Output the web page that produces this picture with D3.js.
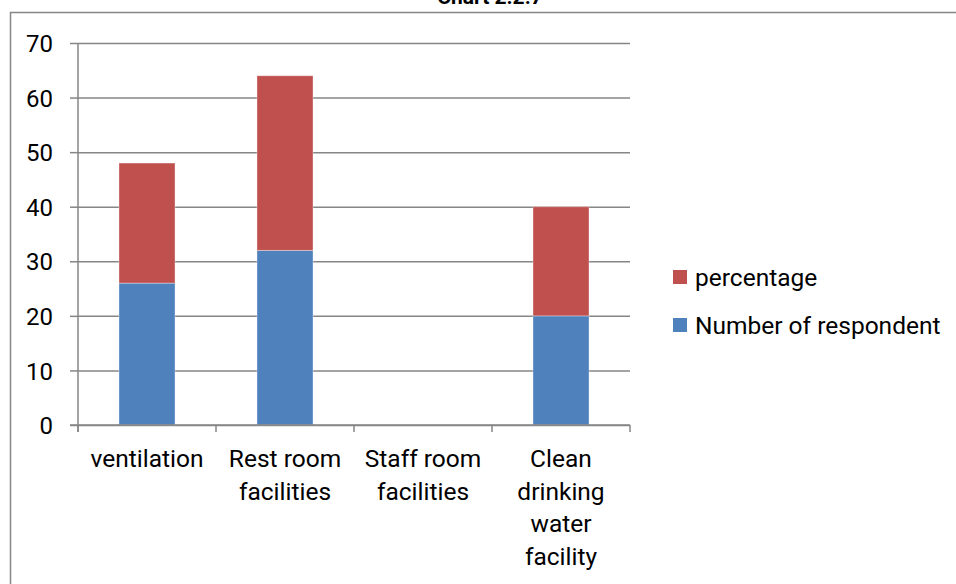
<!DOCTYPE html>
<html>
<head>
<meta charset="utf-8">
<title>Chart 2.2.7</title>
<script src="https://d3js.org/d3.v7.min.js"></script>
<style>
    body { margin: 0; background: #fff; }
    text { font-family: Roboto, "Liberation Sans", Arial, sans-serif; fill: #000; }
    .grid line, .tick-x { stroke: #868686; stroke-width: 1.5px; }
</style>
</head>
<body>
<div id="chart"></div>
<script>
    // data
    const categories = ["ventilation", "Rest room facilities", "Staff room facilities", "Clean drinking water facility"];
    const categoryLines = [["ventilation"], ["Rest room", "facilities"], ["Staff room", "facilities"], ["Clean", "drinking", "water", "facility"]];
    const respondents = [26, 32, 0, 20];
    const percentage = [22, 32, 0, 20];
    const yTicks = [0, 10, 20, 30, 40, 50, 60, 70];
    const seriesNames = ["Number of respondent", "percentage"];
    const seriesColors = ["#4F81BD", "#C0504D"];

    const width = 956, height = 584;
    const plot = { left: 78, right: 630, top: 43, bottom: 425 };

    const svg = d3.select("#chart").append("svg")
        .attr("width", width)
        .attr("height", height);

    // title, mostly cut off above the frame
    svg.append("text")
        .attr("x", 490).attr("y", 4)
        .attr("text-anchor", "middle")
        .style("font-size", "21px").style("font-weight", "bold")
        .text("Chart 2.2.7");

    // outer frame (right and bottom run off the picture)
    svg.append("path")
        .attr("d", `M10.5,${height + 2} V12.5 H${width + 2}`)
        .attr("fill", "none").attr("stroke", "#868686").attr("stroke-width", 1.5);

    const x = d3.scaleBand()
        .domain(categories)
        .range([plot.left, plot.right])
        .paddingInner(0.594)
        .paddingOuter(0.297);

    const y = d3.scaleLinear()
        .domain([0, 70])
        .range([plot.bottom, plot.top]);

    // gridlines + left ticks
    const grid = svg.append("g")
        .attr("class", "grid")
        .attr("transform", `translate(${plot.left},0)`)
        .call(d3.axisLeft(y).tickValues(yTicks).tickSize(-(plot.right - plot.left)).tickFormat(""));
    grid.select(".domain").remove();
    grid.selectAll(".tick").append("line")
        .attr("x1", -8).attr("x2", 0);

    const yAxis = svg.append("g")
        .attr("transform", `translate(${plot.left},0)`)
        .call(d3.axisLeft(y).tickValues(yTicks).tickSize(0).tickPadding(25));
    yAxis.select(".domain").remove();
    yAxis.selectAll("text")
        .style("font-size", "24px")
        .attr("dy", "0.36em");

    // bars
    const table = categories.map((c, i) => ({ cat: c, r: respondents[i], p: percentage[i] }));
    const stacked = d3.stack().keys(["r", "p"])(table);

    svg.append("g").selectAll("g")
        .data(stacked)
        .join("g")
        .attr("fill", (d, i) => seriesColors[i])
        .selectAll("rect")
        .data(d => d)
        .join("rect")
        .attr("x", d => x(d.data.cat))
        .attr("width", x.bandwidth())
        .attr("y", d => y(d[1]))
        .attr("height", d => y(d[0]) - y(d[1]))
        .attr("stroke", "rgba(255,255,255,0.35)")
        .attr("stroke-width", 1);

    // axes lines
    svg.append("line")
        .attr("x1", plot.left).attr("x2", plot.left)
        .attr("y1", plot.top).attr("y2", plot.bottom + 7)
        .attr("stroke", "#868686").attr("stroke-width", 1.5);
    svg.append("line")
        .attr("x1", plot.left - 8).attr("x2", plot.right)
        .attr("y1", plot.bottom).attr("y2", plot.bottom)
        .attr("stroke", "#868686").attr("stroke-width", 1.5);

    const step = x.step();
    const bounds = d3.range(categories.length + 1).map(i => plot.left + i * step);
    svg.append("g").selectAll("line")
        .data(bounds)
        .join("line")
        .attr("class", "tick-x")
        .attr("x1", d => d).attr("x2", d => d)
        .attr("y1", plot.bottom).attr("y2", plot.bottom + 7);

    // category labels
    svg.append("g").selectAll("text")
        .data(categories)
        .join("text")
        .attr("text-anchor", "middle")
        .style("font-size", "24.5px")
        .each(function (d, i) {
            const cx = x(d) + x.bandwidth() / 2;
            d3.select(this).selectAll("tspan")
                .data(categoryLines[i])
                .join("tspan")
                .attr("x", cx)
                .attr("y", (t, j) => 467 + j * 32.5)
                .text(t => t);
        });

    // legend
    const legend = svg.append("g").attr("transform", "translate(673,0)");
    const legendOrder = [1, 0];
    legendOrder.forEach((s, k) => {
        const cy = 277 + k * 48;
        legend.append("rect")
            .attr("x", 0).attr("y", cy - 7)
            .attr("width", 14).attr("height", 14)
            .attr("fill", seriesColors[s]);
        legend.append("text")
            .attr("x", 22).attr("y", cy + 8.5)
            .style("font-size", "24.5px")
            .text(seriesNames[s]);
    });
</script>
</body>
</html>
